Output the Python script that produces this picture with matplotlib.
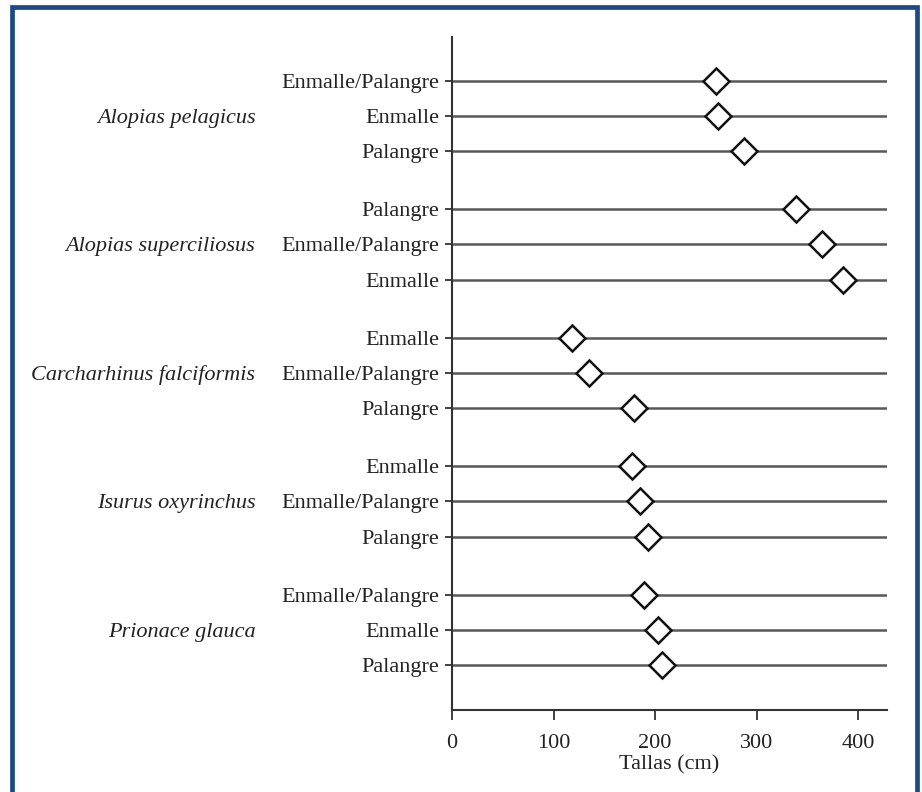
import matplotlib
matplotlib.use("Agg")
import matplotlib.pyplot as plt
from matplotlib.patches import Rectangle

plt.rcParams['font.family'] = ['Liberation Serif', 'DejaVu Serif']

species = ["Alopias pelagicus", "Alopias superciliosus", "Carcharhinus falciformis",
           "Isurus oxyrinchus", "Prionace glauca"]
gears = [
    ["Enmalle/Palangre", "Enmalle", "Palangre"],
    ["Palangre", "Enmalle/Palangre", "Enmalle"],
    ["Enmalle", "Enmalle/Palangre", "Palangre"],
    ["Enmalle", "Enmalle/Palangre", "Palangre"],
    ["Enmalle/Palangre", "Enmalle", "Palangre"],
]
tallas = [
    [260, 262, 288],
    [339, 364, 385],
    [118, 135, 179],
    [177, 185, 193],
    [189, 203, 207],
]
x_ticks = [0, 100, 200, 300, 400]

W, H = 922, 792
fig = plt.figure(figsize=(W / 100, H / 100), dpi=100)
ax = fig.add_axes([452 / W, 1 - 710 / H, (887 - 452) / W, (710 - 37) / H])

group_pitch = 3.66
txt_color = "#222222"
fs = 16
ypos, ylabels = [], []
for g, (sp, gs, vals) in enumerate(zip(species, gears, tallas)):
    for r, (gear, v) in enumerate(zip(gs, vals)):
        y = g * group_pitch + r
        ypos.append(y)
        ylabels.append(gear)
        ax.axhline(y, color="#585858", lw=1.8, zorder=1)
        ax.plot([v], [y], marker="D", ms=13, mfc="white", mec="#111111",
                mew=1.8, zorder=3, clip_on=False)
    ax.text(-0.452, g * group_pitch + 1, sp, transform=ax.get_yaxis_transform(),
            ha="right", va="center_baseline", style="italic", fontsize=fs,
            color=txt_color)

ax.set_xlim(0, 428.5)
ax.set_ylim(17.92, -1.25)
ax.set_yticks(ypos)
ax.set_yticklabels(ylabels, fontsize=fs, color=txt_color)
ax.set_xticks(x_ticks)
ax.set_xticklabels([str(t) for t in x_ticks], fontsize=fs, color=txt_color)
ax.set_xlabel("Tallas (cm)", fontsize=fs, color=txt_color, labelpad=2)
ax.tick_params(axis="y", length=5, width=1.3, color="#333333", pad=4)
ax.tick_params(axis="x", length=7, width=1.3, color="#333333", pad=10)
for s in ["top", "right"]:
    ax.spines[s].set_visible(False)
for s in ["left", "bottom"]:
    ax.spines[s].set_color("#333333")
    ax.spines[s].set_linewidth(1.5)

# blue frame (open at the bottom)
fig.add_artist(Rectangle((12 / W, -0.05), (916.5 - 12) / W, 1.05 - 6.5 / H,
                         transform=fig.transFigure, fill=False,
                         edgecolor="#1b4a86", lw=3.4))

fig.savefig("out.png", dpi=100)
